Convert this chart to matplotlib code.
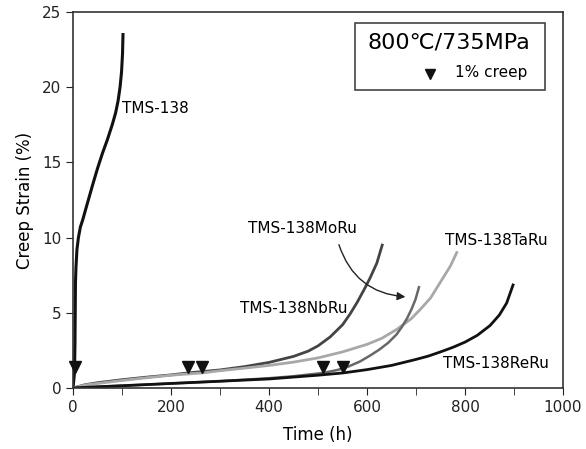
import matplotlib
matplotlib.use("Agg")
import matplotlib.pyplot as plt
from matplotlib.patches import Rectangle
import matplotlib.transforms as mtransforms

plt.rcParams['font.family'] = ['DejaVu Sans', 'Noto Sans CJK JP']

# ---- data ----
t_138 = [0, 3, 4, 4.5, 5, 6, 8, 11, 15, 20, 26, 33, 40, 50, 60, 70, 80, 87, 92,
         96, 99, 101, 102]
s_138 = [0, 1.0, 3.0, 5.0, 7.0, 8.0, 9.2, 10.0, 10.7, 11.2, 11.9, 12.7, 13.5,
         14.6, 15.6, 16.5, 17.5, 18.3, 19.1, 20.0, 21.0, 22.2, 23.5]

t_nb = [0, 25, 50, 100, 150, 200, 235, 300, 350, 400, 450, 480, 500, 525, 550,
        565, 580, 595, 606, 620, 631]
s_nb = [0, 0.22, 0.35, 0.55, 0.72, 0.87, 1.0, 1.2, 1.42, 1.7, 2.1, 2.45, 2.8,
        3.4, 4.2, 4.9, 5.7, 6.6, 7.3, 8.3, 9.5]

t_ta = [0, 25, 50, 100, 150, 200, 263, 300, 350, 400, 450, 500, 550, 600, 630,
        661, 690, 708, 730, 749, 770, 783]
s_ta = [0, 0.2, 0.3, 0.5, 0.68, 0.85, 1.0, 1.15, 1.32, 1.5, 1.72, 2.0, 2.4, 2.9,
        3.3, 3.9, 4.6, 5.2, 6.0, 7.0, 8.1, 9.0]

t_mo = [0, 50, 100, 200, 300, 400, 450, 510, 540, 560, 585, 606, 625, 643, 660,
        671, 682, 691, 699, 706]
s_mo = [0, 0.08, 0.15, 0.3, 0.45, 0.65, 0.78, 1.0, 1.2, 1.4, 1.75, 2.15, 2.55,
        3.0, 3.55, 4.05, 4.65, 5.25, 5.9, 6.7]

t_re = [0, 50, 100, 200, 300, 400, 500, 551, 600, 650, 700, 725, 750, 775, 800,
        825, 851, 870, 885, 898]
s_re = [0, 0.08, 0.15, 0.3, 0.45, 0.6, 0.85, 1.0, 1.22, 1.5, 1.9, 2.12, 2.4,
        2.7, 3.05, 3.5, 4.15, 4.85, 5.65, 6.85]

creep1_t = [4, 235, 263, 510, 551]
creep1_s = [1, 1, 1, 1, 1]

labels = ["TMS-138", "TMS-138NbRu", "TMS-138TaRu", "TMS-138MoRu", "TMS-138ReRu"]
x_ticks = [0, 200, 400, 600, 800, 1000]
y_ticks = [0, 5, 10, 15, 20, 25]

fig = plt.figure(figsize=(5.86, 4.49), dpi=100)
ax = fig.add_axes([0.1246, 0.1359, 0.8362, 0.8374])

kw = dict(solid_joinstyle='round')
ax.plot(t_138, s_138, color='#111111', lw=2.2, **kw)
ax.plot(t_nb, s_nb, color='#444444', lw=2.0, **kw)
ax.plot(t_ta, s_ta, color='#a8a8a8', lw=2.0, **kw)
ax.plot(t_mo, s_mo, color='#686868', lw=1.8, **kw)
ax.plot(t_re, s_re, color='#111111', lw=2.0, **kw)

ms = 8
off = mtransforms.offset_copy(ax.transData, fig=fig, x=0, y=ms / 2, units='points')
ax.plot(creep1_t, creep1_s, linestyle='none', marker='v', markersize=ms,
        color='#111111', transform=off, clip_on=False, zorder=5)

fs = 11
ax.text(100, 18.6, labels[0], fontsize=fs, va='center', ha='left')
ax.text(341, 5.3, labels[1], fontsize=fs, va='center', ha='left')
ax.text(759, 9.8, labels[2], fontsize=fs, va='center', ha='left')
ax.text(357, 10.6, labels[3], fontsize=fs, va='center', ha='left')
ax.text(755, 1.65, labels[4], fontsize=fs, va='center', ha='left')

ax.annotate('', xy=(684, 6.05), xytext=(541, 9.7),
            arrowprops=dict(arrowstyle='-|>', color='#222222', lw=1.0,
                            connectionstyle='arc3,rad=0.35', mutation_scale=12))

# info box
ax.add_patch(Rectangle((0.576, 0.793), 0.387, 0.178, transform=ax.transAxes,
                       fill=False, edgecolor='#444444', lw=1.2, zorder=6))
ax.text(0.767, 0.918, '800℃/735MPa', transform=ax.transAxes, fontsize=16,
        ha='center', va='center')
ax.plot([0.729], [0.836], transform=ax.transAxes, marker='v', markersize=7,
        color='#111111', linestyle='none')
ax.text(0.780, 0.838, '1% creep', transform=ax.transAxes, fontsize=11,
        ha='left', va='center')

ax.set_xlim(0, 1000)
ax.set_ylim(0, 25)
ax.set_xticks(x_ticks)
ax.set_yticks(y_ticks)
ax.set_xticks(range(100, 1000, 200), minor=True)
ax.tick_params(which='both', direction='out', labelsize=11, colors='#222222',
               top=False, right=False)
ax.tick_params(which='major', length=5)
ax.tick_params(which='minor', length=5)
for sp in ax.spines.values():
    sp.set_linewidth(1.2)
    sp.set_color('#333333')

ax.set_xlabel('Time (h)', fontsize=12, labelpad=8)
ax.set_ylabel('Creep Strain (%)', fontsize=12, labelpad=6)

fig.savefig('out.png', dpi=100)
